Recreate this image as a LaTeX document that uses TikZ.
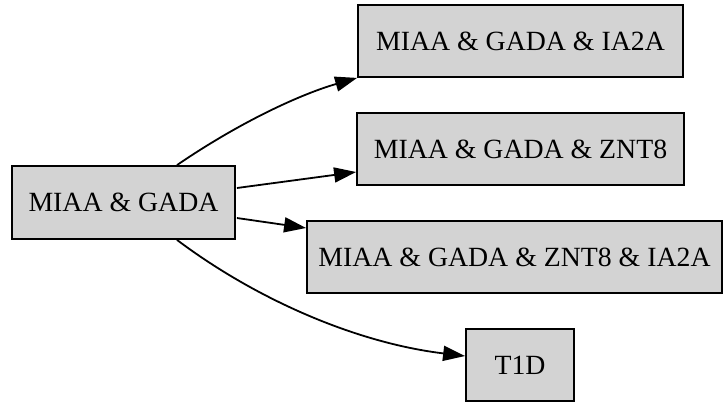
\documentclass[tikz,border=0pt]{standalone}
\usepackage{fontspec}
\setmainfont{Liberation Serif}
\usetikzlibrary{arrows.meta,calc}
\begin{document}
\begin{tikzpicture}[x=0.5pt,y=-0.5pt,
  box/.style={draw=black,fill={rgb,255:red,211;green,211;blue,211},line width=0.9pt,
    inner sep=0pt,minimum height=36pt,font=\fontsize{13.9}{16}\selectfont},
  edge/.style={line width=0.9pt,-{Triangle[length=11pt,width=7.5pt]}}]
\useasboundingbox (0,0) rectangle (724,404);
\node[box,minimum width=111.5pt,minimum height=36.5pt] (L) at (123.5,202.5) {MIAA \& GADA};
\node[box,minimum width=162.5pt] (A) at (520.5,41) {MIAA \& GADA \& IA2A};
\node[box,minimum width=163.5pt] (Z) at (520.5,149) {MIAA \& GADA \& ZNT8};
\node[box,minimum width=207.5pt] (ZI) at (514.5,257) {MIAA \& GADA \& ZNT8 \& IA2A};
\node[box,minimum width=54pt] (T) at (520,365) {T1D};
\draw[edge] ($(L.north)+(53.5,0)$) .. controls (237,124) and (298,95) .. (A.south west);
\draw[edge] ($(L.east)+(1,-14.5)$) -- ($(Z.west)+(0,23)$);
\draw[edge] ($(L.east)+(1,15.5)$) -- ($(ZI.west)+(0,-29)$);
\draw[edge] ($(L.south)+(53.5,0)$) .. controls (257,300) and (357,343) .. ($(T.west)+(0,-9)$);
\end{tikzpicture}
\end{document}
